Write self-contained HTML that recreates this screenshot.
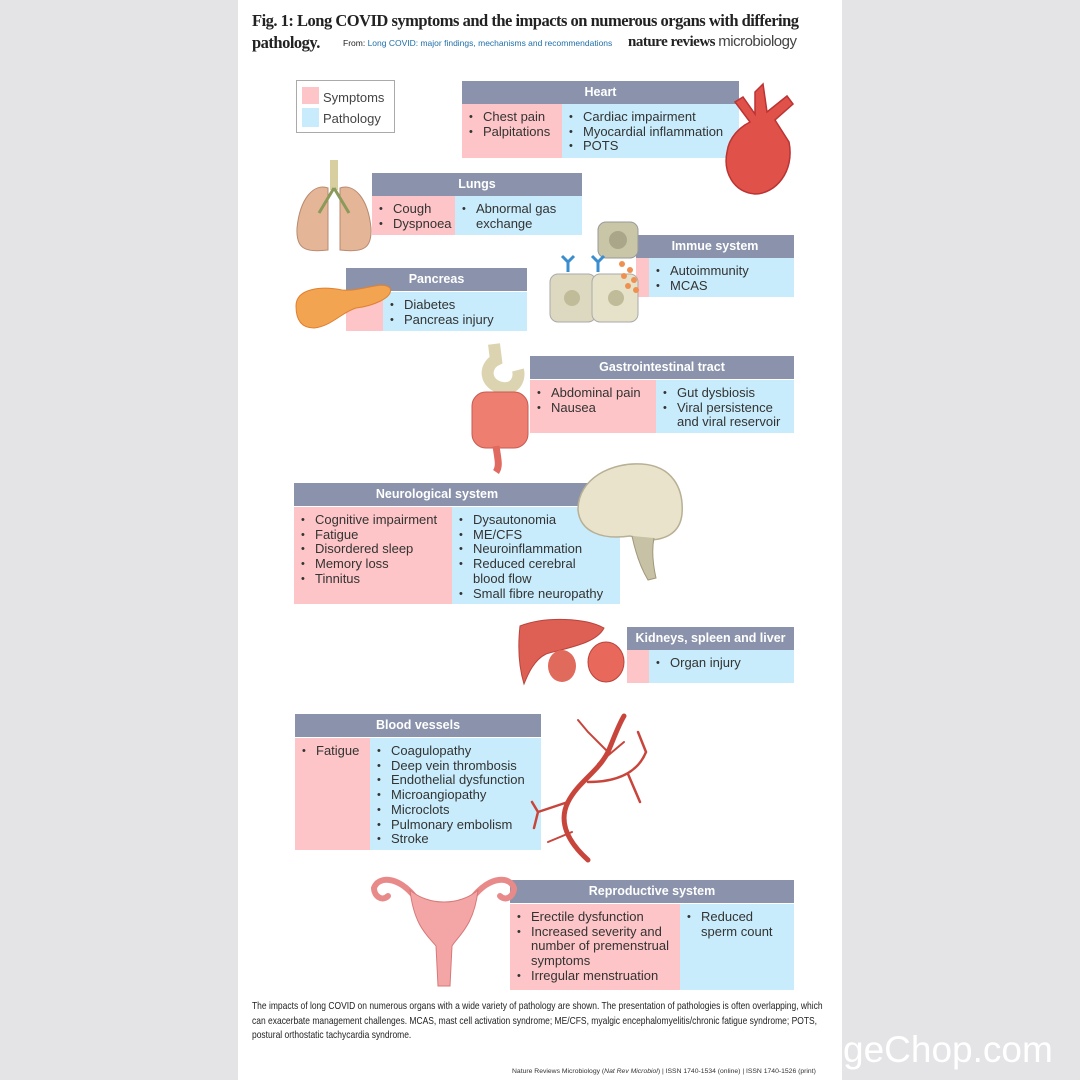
<!DOCTYPE html>
<html><head><meta charset="utf-8"><style>
*{margin:0;padding:0;box-sizing:border-box}
body{width:1080px;height:1080px;background:#e4e3e6;position:relative;overflow:hidden;font-family:"Liberation Sans",sans-serif}
.page{position:absolute;left:238px;top:0;width:604px;height:1080px;background:#fff}
.a{position:absolute}
.h{position:absolute;background:#8a93ab;color:#fff;font-weight:bold;font-size:12.5px;text-align:center;line-height:23px}
.p{position:absolute;background:#fdc5c7}
.b{position:absolute;background:#c8ecfb}
ul{list-style:none;font-size:13px;color:#333;line-height:14.7px;padding-top:6px}
li{padding-left:21px;position:relative}
li:before{content:"•";position:absolute;left:7px;font-size:11px}
.t{position:absolute;color:#222}
</style></head><body>
<div class="page"></div>
<div class="t" style="left:252px;top:10px;font-family:'Liberation Serif',serif;font-weight:bold;font-size:16.5px;line-height:22px;width:570px;letter-spacing:-0.5px">Fig. 1: Long COVID symptoms and the impacts on numerous organs with differing<br>pathology.</div>
<div class="t" style="left:343px;top:38px;font-size:8.5px;white-space:nowrap">From: <span style="color:#1f6fa8">Long COVID: major findings, mechanisms and recommendations</span></div>
<div class="t" style="left:628px;top:33px;font-size:15px;font-family:'Liberation Serif',serif;font-weight:bold;letter-spacing:-0.5px">nature reviews <span style="font-family:'Liberation Sans',sans-serif;font-weight:normal;color:#444">microbiology</span></div>

<div class="a" style="left:296px;top:80px;width:99px;height:53px;border:1.5px solid #aaa;background:#fff"></div>
<div class="p" style="left:302px;top:87px;width:17px;height:17px"></div>
<div class="b" style="left:302px;top:108px;width:17px;height:19px"></div>
<div class="t" style="left:323px;top:87px;font-size:13px;color:#444;line-height:21px">Symptoms<br>Pathology</div>

<!-- Heart -->
<div class="h" style="left:462px;top:81px;width:277px">Heart</div>
<div class="p" style="left:462px;top:104px;width:100px;height:54px"><ul><li>Chest pain</li><li>Palpitations</li></ul></div>
<div class="b" style="left:562px;top:104px;width:177px;height:54px"><ul><li>Cardiac impairment</li><li>Myocardial inflammation</li><li>POTS</li></ul></div>
<svg class="a" style="left:715px;top:82px" width="80" height="115"><path d="M40 10 L48 2 L52 30 L72 14 L78 22 L60 38 L74 60 C80 90 60 112 40 112 C18 110 8 90 12 70 C14 55 25 45 35 40 L20 20 L28 15 L40 32 Z" fill="#e0514a" stroke="#b33" stroke-width="1.5"/></svg>

<!-- Lungs -->
<div class="h" style="left:372px;top:173px;width:210px">Lungs</div>
<div class="p" style="left:372px;top:196px;width:83px;height:39px"><ul><li>Cough</li><li>Dyspnoea</li></ul></div>
<div class="b" style="left:455px;top:196px;width:127px;height:39px"><ul><li>Abnormal gas<br>exchange</li></ul></div>
<svg class="a" style="left:294px;top:158px" width="80" height="98"><rect x="36" y="2" width="8" height="30" fill="#d8cfa0"/><path d="M34 30 C20 25 6 40 3 70 C2 90 10 95 34 92 Z" fill="#e4b596" stroke="#b98a70"/><path d="M46 30 C60 25 74 40 77 70 C78 90 70 95 46 92 Z" fill="#e4b596" stroke="#b98a70"/><path d="M40 30 L25 55 M40 30 L55 55" stroke="#8a9a5a" stroke-width="3" fill="none"/></svg>

<!-- Immune -->
<div class="h" style="left:636px;top:235px;width:158px">Immue system</div>
<div class="p" style="left:636px;top:258px;width:13px;height:39px"></div>
<div class="b" style="left:649px;top:258px;width:145px;height:39px"><ul><li>Autoimmunity</li><li>MCAS</li></ul></div>
<svg class="a" style="left:546px;top:220px" width="100" height="106"><rect x="52" y="2" width="40" height="36" rx="8" fill="#c9c6a8" stroke="#999"/><circle cx="72" cy="20" r="9" fill="#a9a68a"/><rect x="4" y="54" width="46" height="48" rx="8" fill="#ddd9c0" stroke="#aaa"/><rect x="46" y="54" width="46" height="48" rx="8" fill="#e6e2ca" stroke="#aaa"/><circle cx="26" cy="78" r="8" fill="#c0bb98"/><circle cx="70" cy="78" r="8" fill="#c0bb98"/><path d="M22 52 L22 40 M16 36 L22 42 L28 36" stroke="#3a8ed0" stroke-width="3" fill="none"/><path d="M52 52 L52 40 M46 36 L52 42 L58 36" stroke="#3a8ed0" stroke-width="3" fill="none"/><g fill="#f09050"><circle cx="76" cy="44" r="3"/><circle cx="84" cy="50" r="3"/><circle cx="78" cy="56" r="3"/><circle cx="88" cy="60" r="3"/><circle cx="82" cy="66" r="3"/><circle cx="90" cy="70" r="3"/></g></svg>

<!-- Pancreas -->
<div class="h" style="left:346px;top:268px;width:181px">Pancreas</div>
<div class="p" style="left:346px;top:292px;width:37px;height:39px"></div>
<div class="b" style="left:383px;top:292px;width:144px;height:39px"><ul><li>Diabetes</li><li>Pancreas injury</li></ul></div>
<svg class="a" style="left:292px;top:276px" width="102" height="56"><path d="M4 30 C4 12 30 10 50 14 C70 16 90 4 98 12 C102 22 80 30 64 32 C50 36 40 50 22 52 C8 52 4 42 4 30 Z" fill="#f3a450" stroke="#e08030"/></svg>

<!-- GI -->
<div class="h" style="left:530px;top:356px;width:264px">Gastrointestinal tract</div>
<div class="p" style="left:530px;top:380px;width:126px;height:53px"><ul><li>Abdominal pain</li><li>Nausea</li></ul></div>
<div class="b" style="left:656px;top:380px;width:138px;height:53px"><ul><li>Gut dysbiosis</li><li>Viral persistence<br>and viral reservoir</li></ul></div>
<svg class="a" style="left:466px;top:342px" width="66" height="132"><path d="M28 2 L30 18 C18 24 18 42 36 46 C50 48 54 36 52 28" stroke="#dcd4b0" stroke-width="12" fill="none"/><rect x="6" y="50" width="56" height="56" rx="14" fill="#ee7f70" stroke="#c85a50"/><path d="M30 104 C32 118 34 124 30 130" stroke="#e06a60" stroke-width="7" fill="none"/></svg>

<!-- Neuro -->
<div class="h" style="left:294px;top:483px;width:326px;padding-right:40px">Neurological system</div>
<div class="p" style="left:294px;top:507px;width:158px;height:97px"><ul><li>Cognitive impairment</li><li>Fatigue</li><li>Disordered sleep</li><li>Memory loss</li><li>Tinnitus</li></ul></div>
<div class="b" style="left:452px;top:507px;width:168px;height:97px"><ul><li>Dysautonomia</li><li>ME/CFS</li><li>Neuroinflammation</li><li>Reduced cerebral<br>blood flow</li><li>Small fibre neuropathy</li></ul></div>
<svg class="a" style="left:572px;top:460px" width="116" height="122"><path d="M6 50 C6 18 40 2 70 4 C100 6 112 28 110 54 C108 74 92 80 76 80 L58 76 C30 80 8 72 6 50 Z" fill="#e9e3cc" stroke="#b8b095" stroke-width="1.5"/><path d="M60 76 C64 95 70 110 76 120 L84 118 C80 100 80 88 82 78" fill="#c7c1a5" stroke="#a09878"/></svg>

<!-- Kidneys -->
<div class="h" style="left:627px;top:627px;width:167px">Kidneys, spleen and liver</div>
<div class="p" style="left:627px;top:650px;width:22px;height:33px"></div>
<div class="b" style="left:649px;top:650px;width:145px;height:33px"><ul><li>Organ injury</li></ul></div>
<svg class="a" style="left:516px;top:614px" width="114" height="72"><path d="M4 12 C30 2 70 4 88 14 C80 30 50 34 30 40 C18 46 12 60 8 70 C2 50 2 30 4 12 Z" fill="#de5f54" stroke="#b8443c"/><ellipse cx="46" cy="52" rx="14" ry="16" fill="#e06a5c"/><ellipse cx="90" cy="48" rx="18" ry="20" fill="#e8685c" stroke="#b8443c"/></svg>

<!-- Blood vessels -->
<div class="h" style="left:295px;top:714px;width:246px">Blood vessels</div>
<div class="p" style="left:295px;top:738px;width:75px;height:112px"><ul><li>Fatigue</li></ul></div>
<div class="b" style="left:370px;top:738px;width:171px;height:112px"><ul><li>Coagulopathy</li><li>Deep vein thrombosis</li><li>Endothelial dysfunction</li><li>Microangiopathy</li><li>Microclots</li><li>Pulmonary embolism</li><li>Stroke</li></ul></div>
<svg class="a" style="left:528px;top:712px" width="124" height="152"><g stroke="#c8453c" fill="none" stroke-linecap="round"><path d="M60 148 C40 130 30 110 40 90 C50 70 70 60 80 40 C86 26 90 14 96 4" stroke-width="5"/><path d="M40 90 L10 100 M10 100 L4 90 M10 100 L6 116" stroke-width="2.5"/><path d="M60 70 C90 70 110 60 118 40 M100 62 L112 90 M118 40 L110 20" stroke-width="2.5"/><path d="M80 40 L60 20 L50 8 M70 52 L96 30 M44 120 L20 130" stroke-width="2"/></g></svg>

<!-- Reproductive -->
<div class="h" style="left:510px;top:880px;width:284px">Reproductive system</div>
<div class="p" style="left:510px;top:904px;width:170px;height:86px"><ul><li>Erectile dysfunction</li><li>Increased severity and<br>number of premenstrual<br>symptoms</li><li>Irregular menstruation</li></ul></div>
<div class="b" style="left:680px;top:904px;width:114px;height:86px"><ul><li>Reduced<br>sperm count</li></ul></div>
<svg class="a" style="left:368px;top:866px" width="152" height="126"><g fill="none" stroke="#e98a8a" stroke-width="6" stroke-linecap="round"><path d="M46 30 C30 10 10 10 6 22 C6 30 14 36 20 30"/><path d="M106 30 C122 10 142 10 146 22 C146 30 138 36 132 30"/></g><path d="M42 24 C60 40 92 40 110 24 C106 60 90 70 84 80 L82 120 L70 120 L68 80 C60 70 46 60 42 24 Z" fill="#f4a6a6" stroke="#d67878"/></svg>

<!-- caption -->
<div class="t" style="left:252px;top:1000px;width:684px;font-size:10.1px;line-height:14.7px;color:#222;transform:scaleX(0.84);transform-origin:left top">The impacts of long COVID on numerous organs with a wide variety of pathology are shown. The presentation of pathologies is often overlapping, which can exacerbate management challenges. MCAS, mast cell activation syndrome; ME/CFS, myalgic encephalomyelitis/chronic fatigue syndrome; POTS, postural orthostatic tachycardia syndrome.</div>
<div class="t" style="left:512px;top:1068px;font-size:6.8px;color:#333;white-space:nowrap">Nature Reviews Microbiology (<i>Nat Rev Microbiol</i>) | ISSN 1740-1534 (online) | ISSN 1740-1526 (print)</div>
<div class="t" style="left:843px;top:1027px;font-size:37px;color:#fff;line-height:46px">geChop.com</div>
</body></html>
